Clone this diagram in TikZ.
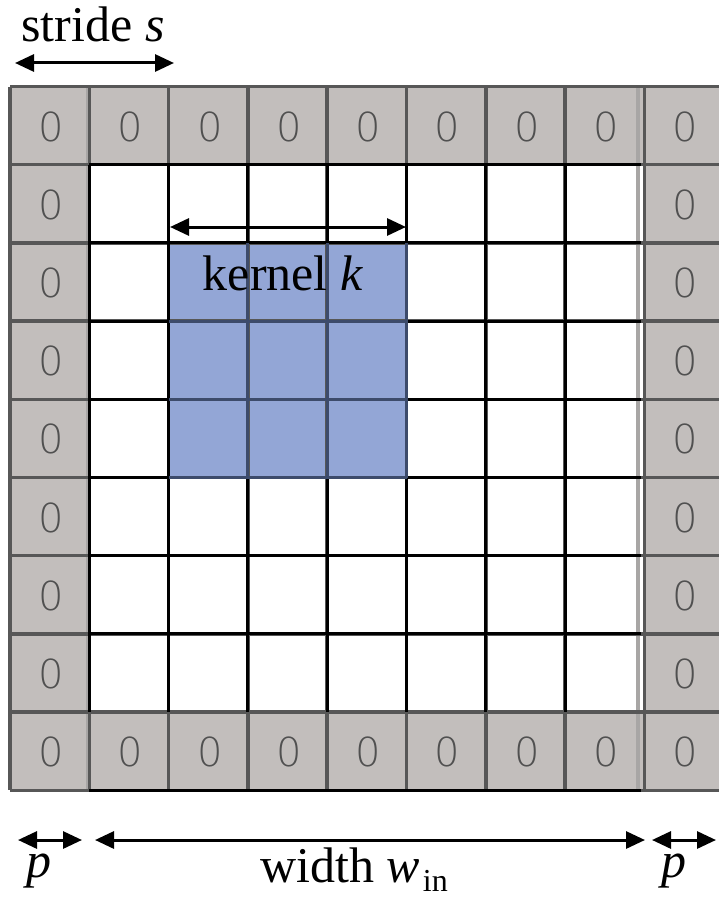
\documentclass[tikz,border=0pt]{standalone}
\usepackage{fontspec}
\setmainfont{Liberation Serif}
\newfontfamily\zerofont{DejaVu Sans ExtraLight}
\usetikzlibrary{arrows.meta}
\definecolor{padgray}{HTML}{C2BEBC}
\definecolor{padline}{HTML}{575757}
\definecolor{padlight}{HTML}{A8A6A5}
\definecolor{kfill}{HTML}{93A6D6}
\definecolor{kline}{HTML}{3D4B6B}
\definecolor{zerocol}{HTML}{505050}
\tikzset{
  zcell/.style={inner sep=0pt, text=zerocol, font=\zerofont\fontsize{40}{40}\selectfont},
  gridblack/.style={line width=3pt, black},
  gridgray/.style={line width=3.5pt, padline},
  gridkern/.style={line width=3pt, kline},
  dimarrow/.style={line width=3pt, {Triangle[length=19pt,width=17pt]}-{Triangle[length=19pt,width=17pt]}},
  label/.style={inner sep=0pt, font=\fontsize{50}{50}\selectfont},
}
\begin{document}
\begin{tikzpicture}[x=1pt,y=-1pt]
\useasboundingbox (0,0) rectangle (719,899);
\def\cw{79.3}
\def\ch{78.2}
\def\xo{10}
\def\yo{86.5}
% fills
\fill[padgray] (\xo,\yo) rectangle ({\xo+9*\cw},{\yo+9*\ch});
\fill[white] ({\xo+\cw},{\yo+\ch}) rectangle ({\xo+8*\cw},{\yo+8*\ch});
\fill[kfill] ({\xo+2*\cw},{\yo+2*\ch}) rectangle ({\xo+5*\cw},{\yo+5*\ch});
% light strips
\draw[line width=2pt, padlight] ({\xo+\cw-2.5},\yo) -- ({\xo+\cw-2.5},{\yo+9*\ch});
\draw[line width=4pt, padlight] ({\xo+8*\cw-6},\yo) -- ({\xo+8*\cw-6},{\yo+9*\ch});
% gray grid
\foreach \k in {0,...,9} {
  \draw[gridgray] ({\xo+\k*\cw},\yo) -- ({\xo+\k*\cw},{\yo+9*\ch});
  \draw[gridgray] (\xo,{\yo+\k*\ch}) -- ({\xo+9*\cw},{\yo+\k*\ch});
}
% black inner grid
\foreach \k in {1,...,7} {
  \draw[gridblack] ({\xo+\cw},{\yo+\k*\ch}) -- ({\xo+8*\cw-3},{\yo+\k*\ch});
  \draw[gridblack] ({\xo+\k*\cw},{\yo+\ch}) -- ({\xo+\k*\cw},{\yo+8*\ch});
}
\draw[gridblack] ({\xo+\cw},{\yo+9*\ch}) -- ({\xo+8*\cw-3},{\yo+9*\ch});
% kernel grid
\foreach \k in {3,4,5} {
  \draw[gridkern] ({\xo+\k*\cw},{\yo+2*\ch}) -- ({\xo+\k*\cw},{\yo+5*\ch});
  \draw[gridkern] ({\xo+2*\cw},{\yo+\k*\ch}) -- ({\xo+5*\cw},{\yo+\k*\ch});
}
% zero cells
\foreach \i in {0,...,8} {
  \foreach \j in {0,...,8} {
    \pgfmathtruncatemacro{\pad}{(\i==0)||(\i==8)||(\j==0)||(\j==8)}
    \ifnum\pad=1
      \node[zcell] (z-\i-\j) at ({\xo+(\i+0.5)*\cw+1.5},{\yo+(\j+0.5)*\ch+1}) {0};
    \fi
  }
}
% dimension coordinates
\coordinate (sL) at (15,63);
\coordinate (sR) at (174,63);
\coordinate (kL) at (170,227);
\coordinate (kR) at (406,227);
\coordinate (pL1) at (18,840);
\coordinate (pL2) at (82,840);
\coordinate (wL) at (95,840);
\coordinate (wR) at (645,840);
\coordinate (pR1) at (652,840);
\coordinate (pR2) at (716,840);
\draw[dimarrow] (sL) -- (sR);
\draw[dimarrow] (kL) -- (kR);
\draw[dimarrow] (pL1) -- (pL2);
\draw[dimarrow] (wL) -- (wR);
\draw[dimarrow] (pR1) -- (pR2);
% labels
\node[label, anchor=base] (stride) at (93,42) {stride \textit{s}};
\node[label, anchor=base] (kernel) at (283,290) {kernel \textit{k}};
\node[label, anchor=base] (pleft) at (39,877) {\textit{p}};
\node[label, anchor=base] (pright) at (674,877) {\textit{p}};
\node[label, anchor=base west] (width) at (260,882) {width \textit{w}\kern3pt\raisebox{-9pt}{\fontsize{32}{32}\selectfont in}};
\end{tikzpicture}
\end{document}
